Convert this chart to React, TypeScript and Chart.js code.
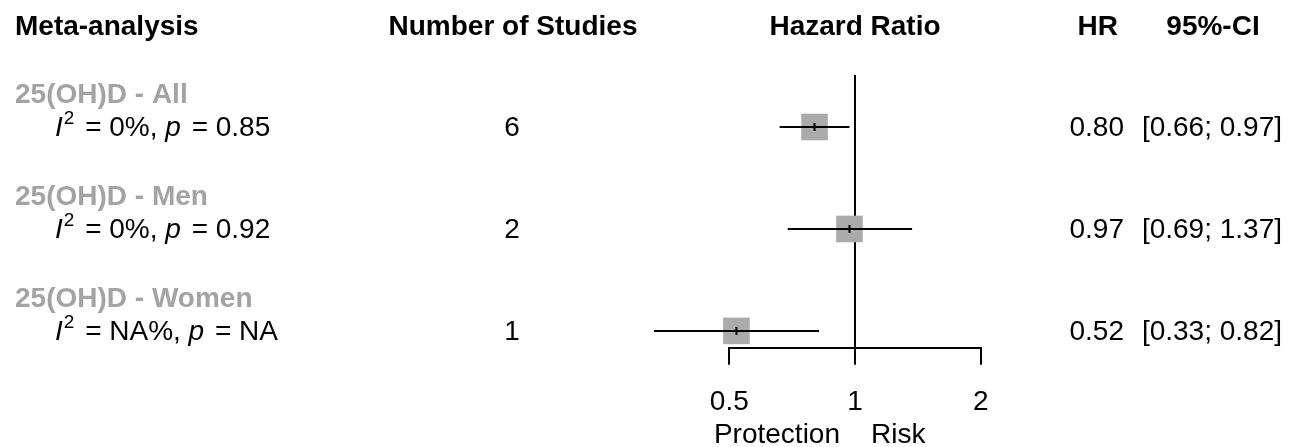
import React, { useEffect, useRef } from 'react';
import { Chart, registerables } from 'chart.js';

Chart.register(...registerables);

const studyNames = ['25(OH)D - All', '25(OH)D - Men', '25(OH)D - Women'];
const i2Values = ['0', '0', 'NA'];
const pValues = ['0.85', '0.92', 'NA'];
const studyCounts = [6, 2, 1];
const hazardRatios = [0.8, 0.97, 0.52];
const ciLower = [0.66, 0.69, 0.33];
const ciUpper = [0.97, 1.37, 0.82];
const rowPositions = [1, 2, 3];
const tickValues = [0.5, 1, 2];
const tickLabels = ['0.5', '1', '2'];
const headers = ['Meta-analysis', 'Number of Studies', 'Hazard Ratio', 'HR', '95%-CI'];
const directionLabels = ['Protection', 'Risk'];

const FONT = '"Liberation Sans", Arial, Helvetica, sans-serif';
const SIZE = 28;

const textPlugin = {
  id: 'forestText',
  beforeDatasetsDraw(chart: any) {
    const { ctx, chartArea, scales } = chart;
    const x1 = scales.x.getPixelForValue(1);
    ctx.save();
    ctx.strokeStyle = '#000';
    ctx.lineWidth = 2;
    ctx.beginPath();
    ctx.moveTo(x1, chartArea.top);
    ctx.lineTo(x1, chartArea.bottom);
    ctx.stroke();
    ctx.restore();
  },
  afterDraw(chart: any) {
    const { ctx, scales } = chart;
    const ys = scales.y;
    const xs = scales.x;
    ctx.save();
    ctx.textBaseline = 'middle';
    ctx.fillStyle = '#000';
    // headers
    const hy = 27;
    ctx.font = `bold ${SIZE}px ${FONT}`;
    ctx.textAlign = 'left';
    ctx.fillText(headers[0], 15, hy);
    ctx.textAlign = 'center';
    ctx.fillText(headers[1], 513, hy);
    ctx.fillText(headers[2], xs.getPixelForValue(1), hy);
    ctx.textAlign = 'right';
    ctx.fillText(headers[3], 1118, hy);
    ctx.textAlign = 'center';
    ctx.fillText(headers[4], 1213, hy);

    rowPositions.forEach((rp, i) => {
      const y = ys.getPixelForValue(rp);
      // group label
      ctx.textAlign = 'left';
      ctx.fillStyle = '#A3A3A3';
      ctx.font = `bold ${SIZE}px ${FONT}`;
      ctx.fillText(studyNames[i], 15, y - 32);
      // heterogeneity
      ctx.fillStyle = '#000';
      let x = 55;
      const ty = y + 1;
      ctx.font = `italic ${SIZE}px ${FONT}`;
      ctx.fillText('I', x, ty);
      x += ctx.measureText('I').width + 1;
      ctx.font = `${Math.round(SIZE * 0.68)}px ${FONT}`;
      ctx.fillText('2', x, ty - 9);
      x += ctx.measureText('2').width + 3;
      ctx.font = `${SIZE}px ${FONT}`;
      const s1 = ` = ${i2Values[i]}%, `;
      ctx.fillText(s1, x, ty);
      x += ctx.measureText(s1).width;
      ctx.font = `italic ${SIZE}px ${FONT}`;
      ctx.fillText('p', x, ty);
      x += ctx.measureText('p').width + 3;
      ctx.font = `${SIZE}px ${FONT}`;
      ctx.fillText(` = ${pValues[i]}`, x, ty);
      // count
      ctx.textAlign = 'center';
      ctx.fillText(String(studyCounts[i]), 512, ty);
      // HR & CI
      ctx.textAlign = 'right';
      ctx.fillText(hazardRatios[i].toFixed(2), 1124, ty);
      ctx.fillText(`[${ciLower[i].toFixed(2)}; ${ciUpper[i].toFixed(2)}]`, 1282, ty);
    });

    // direction labels
    const x1 = xs.getPixelForValue(1);
    ctx.font = `${SIZE}px ${FONT}`;
    ctx.textAlign = 'right';
    ctx.fillText(directionLabels[0], x1 - 15, 435);
    ctx.textAlign = 'left';
    ctx.fillText(directionLabels[1], x1 + 16, 435);
    ctx.restore();
  },
};

export default function App() {
  const ref = useRef<HTMLCanvasElement | null>(null);
  useEffect(() => {
    if (!ref.current) return;
    const ciDatasets = rowPositions.map((rp, i) => ({
      type: 'line' as const,
      data: [
        { x: ciLower[i], y: rp },
        { x: ciUpper[i], y: rp },
      ],
      borderColor: '#000',
      borderWidth: 2,
      pointRadius: 0,
      showLine: true,
      clip: false,
      order: 1,
    }));
    const chart = new Chart(ref.current, {
      type: 'scatter',
      data: {
        datasets: [
          {
            data: hazardRatios.map((hr, i) => ({ x: hr, y: rowPositions[i] })),
            pointStyle: 'rect',
            pointRadius: 18.8,
            backgroundColor: '#ABABAB',
            borderWidth: 0,
            clip: false,
            order: 3,
          } as any,
          ...ciDatasets,
          {
            data: hazardRatios.map((hr, i) => ({ x: hr, y: rowPositions[i] })),
            pointStyle: 'line',
            rotation: 90,
            pointRadius: 4,
            borderColor: '#000',
            borderWidth: 2,
            clip: false,
            order: 0,
          } as any,
        ],
      },
      options: {
        animation: false,
        responsive: false,
        events: [],
        layout: { padding: { left: 729.3, right: 320.3, top: 75, bottom: 0 } },
        plugins: { legend: { display: false }, tooltip: { enabled: false } },
        scales: {
          x: {
            type: 'logarithmic',
            min: 0.5,
            max: 2,
            afterBuildTicks: (scale: any) => {
              scale.ticks = tickValues.map((v) => ({ value: v }));
            },
            afterFit: (scale: any) => {
              scale.height = 99.3;
            },
            ticks: {
              callback: (v: any) => {
                const idx = tickValues.indexOf(Number(v));
                return idx >= 0 ? tickLabels[idx] : '';
              },
              autoSkip: false,
              maxRotation: 0,
              padding: 21,
              color: '#000',
              font: { family: FONT, size: SIZE },
            },
            grid: {
              display: true,
              drawOnChartArea: false,
              drawTicks: true,
              tickLength: 17,
              color: '#000',
              lineWidth: 2,
            },
            border: { display: true, color: '#000', width: 2 },
          },
          y: {
            type: 'linear',
            display: false,
            min: 0.49,
            max: 3.165,
            reverse: true,
          },
        },
      } as any,
      plugins: [textPlugin],
    });
    return () => chart.destroy();
  }, []);
  return (
    <div style={{ position: 'fixed', left: 0, top: 0, width: 1301, height: 447, background: '#fff' }}>
      <canvas ref={ref} width={1301} height={447} />
    </div>
  );
}
